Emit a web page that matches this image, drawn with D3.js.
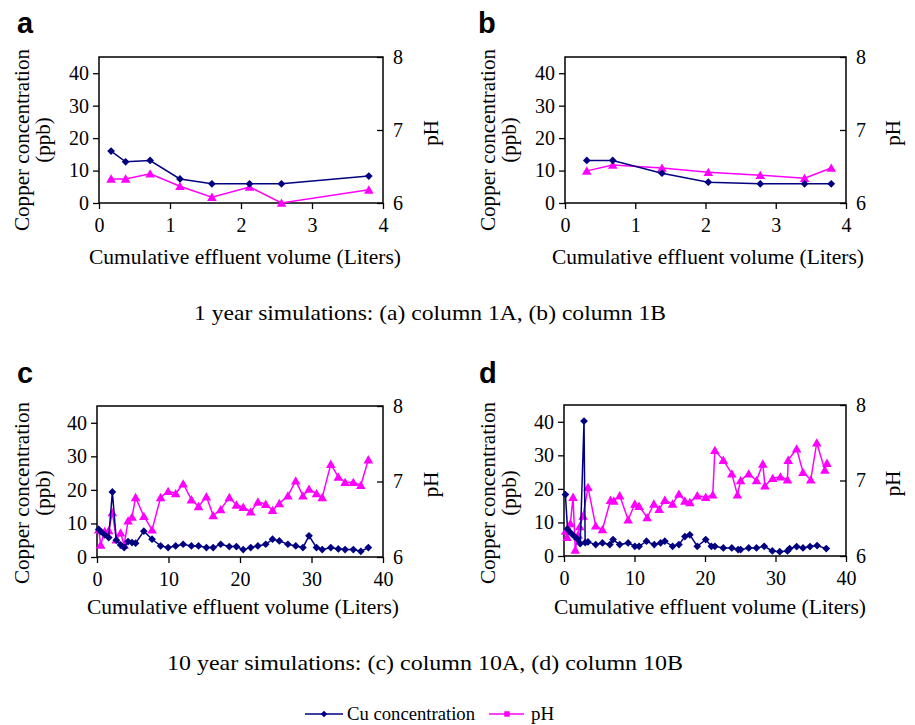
<!DOCTYPE html>
<html>
<head>
<meta charset="utf-8">
<script src="https://cdn.jsdelivr.net/npm/d3@7"></script>
<style>
  html, body { margin: 0; padding: 0; background: #fff; }
  svg { display: block; }
</style>
</head>
<body>
<svg id="chart" width="915" height="725"></svg>
<script>
// ---------- DATA ----------
const cuTicks = [0, 10, 20, 30, 40];
const phTicks = [6, 7, 8];
const volTicksShort = [0, 1, 2, 3, 4];
const volTicksLong = [0, 10, 20, 30, 40];

// Panel a: column 1A (1 year)
const aVolume = [0.17, 0.375, 0.72, 1.14, 1.59, 2.12, 2.57, 3.80];
const aCu     = [16.0, 12.7, 13.1, 7.4, 5.9, 5.9, 5.9, 8.3];
const aPH     = [6.33, 6.33, 6.40, 6.23, 6.08, 6.22, 6.00, 6.18];

// Panel b: column 1B (1 year)
const bVolume = [0.31, 0.68, 1.38, 2.04, 2.78, 3.41, 3.79];
const bCu     = [13.1, 13.1, 9.2, 6.4, 5.9, 5.9, 5.9];
const bPH     = [6.44, 6.52, 6.48, 6.42, 6.38, 6.34, 6.48];

// Panel c: column 10A (10 years)
const cVolume = [0.24, 0.52, 1.08, 1.64, 2.15, 2.7, 3.3, 3.8, 4.35, 4.9, 5.4, 6.55, 7.7, 8.9, 9.95, 11.0, 12.05, 13.2, 14.2, 15.3, 16.25, 17.3, 18.5, 19.5, 20.45, 21.5, 22.5, 23.6, 24.55, 25.5, 26.7, 27.8, 28.8, 29.65, 30.7, 31.5, 32.7, 33.75, 34.7, 35.85, 36.9, 37.95];
const cCu     = [8.2, 7.6, 6.6, 5.8, 19.4, 5.0, 3.6, 2.8, 4.6, 4.3, 4.1, 7.7, 5.3, 3.3, 2.8, 3.3, 3.8, 3.3, 3.3, 2.8, 2.8, 3.8, 3.1, 3.1, 2.2, 2.8, 3.3, 3.8, 5.3, 4.8, 3.8, 3.3, 2.8, 6.3, 2.8, 2.2, 2.8, 2.4, 2.2, 2.2, 1.7, 2.8];
const cPH     = [6.36, 6.16, 6.34, 6.35, 6.59, 6.23, 6.32, 6.16, 6.48, 6.53, 6.79, 6.54, 6.36, 6.79, 6.87, 6.84, 6.97, 6.76, 6.67, 6.80, 6.55, 6.63, 6.79, 6.69, 6.66, 6.60, 6.73, 6.70, 6.62, 6.71, 6.81, 7.01, 6.81, 6.90, 6.84, 6.79, 7.23, 7.06, 6.99, 6.99, 6.95, 7.29];

// Panel d: column 10B (10 years)
const dCuVolume = [0.2, 0.5, 0.9, 1.4, 1.9, 2.3, 2.84, 3.0, 3.4, 4.5, 5.45, 6.5, 6.96, 7.9, 9.1, 10.05, 10.65, 11.7, 12.8, 13.7, 14.3, 15.4, 16.3, 17.15, 17.85, 18.9, 20.1, 20.9, 21.4, 22.6, 23.8, 24.7, 25.05, 26.2, 27.3, 28.4, 29.55, 30.6, 31.7, 32.0, 33.0, 33.9, 34.9, 35.9, 37.2];
const dCu       = [18.3, 8.0, 7.0, 6.0, 5.0, 3.7, 40.2, 4.0, 4.2, 3.4, 3.9, 3.4, 4.9, 3.4, 3.9, 2.9, 2.9, 4.4, 3.4, 3.9, 4.4, 2.9, 3.4, 5.8, 6.3, 2.9, 4.9, 2.9, 2.9, 2.4, 2.4, 1.9, 1.9, 2.4, 2.4, 2.9, 1.5, 1.3, 1.5, 2.2, 2.8, 2.4, 2.8, 3.1, 2.2];
const dPHVolume = [0.24, 0.43, 0.9, 1.28, 1.6, 2.0, 2.23, 2.7, 3.4, 4.5, 5.45, 6.6, 7.06, 7.9, 9.1, 10.05, 10.65, 11.8, 12.75, 13.5, 14.3, 15.4, 16.3, 17.15, 17.85, 18.9, 20.1, 21.1, 21.4, 22.6, 23.8, 24.6, 25.05, 26.2, 27.3, 28.2, 28.5, 29.6, 30.7, 31.7, 31.8, 33.0, 33.9, 35.0, 35.85, 37.0, 37.3];
const dPH       = [6.33, 6.25, 6.43, 6.78, 6.08, 6.28, 6.39, 6.53, 6.91, 6.40, 6.35, 6.74, 6.73, 6.80, 6.48, 6.69, 6.66, 6.51, 6.69, 6.62, 6.74, 6.69, 6.82, 6.73, 6.71, 6.80, 6.78, 6.81, 7.40, 7.27, 7.09, 6.81, 7.00, 7.09, 7.00, 7.22, 6.93, 7.03, 7.05, 7.01, 7.27, 7.42, 7.11, 7.01, 7.50, 7.14, 7.23];

const panelLetters = ["a", "b", "c", "d"];
const xTitle = "Cumulative effluent volume (Liters)";
const yTitle1 = "Copper concentration";
const yTitle2 = "(ppb)";
const y2Title = "pH";
const captions = ["1 year simulations: (a) column 1A, (b) column 1B",
                  "10 year simulations: (c) column 10A, (d) column 10B"];
const legendLabels = ["Cu concentration", "pH"];

// ---------- STYLE ----------
const CU_COLOR = "#000080";
const PH_COLOR = "#FF00FF";
const SERIF = "Liberation Serif";
const SANS = "Liberation Sans";

const svg = d3.select("#chart");

const panels = [
  { letter: panelLetters[0], left: 99, right: 383, top: 57, bottom: 203, xMax: 4, xTicks: volTicksShort,
    cuX: aVolume, cu: aCu, phX: aVolume, ph: aPH, lx: 17, ly: 33, yTitleY: 140, xTitleX: 245, xTitleY: 264, ytX: 29, phLabelX: 438 },
  { letter: panelLetters[1], left: 565, right: 846, top: 57, bottom: 203, xMax: 4, xTicks: volTicksShort,
    cuX: bVolume, cu: bCu, phX: bVolume, ph: bPH, lx: 478, ly: 33, yTitleY: 140, xTitleX: 708, xTitleY: 264, ytX: 495, phLabelX: 900 },
  { letter: panelLetters[2], left: 97, right: 383, top: 406, bottom: 557, xMax: 40, xTicks: volTicksLong,
    cuX: cVolume, cu: cCu, phX: cVolume, ph: cPH, lx: 17, ly: 383, yTitleY: 493, xTitleX: 243, xTitleY: 614, ytX: 29, phLabelX: 438 },
  { letter: panelLetters[3], left: 564, right: 846, top: 405, bottom: 556, xMax: 40, xTicks: volTicksLong,
    cuX: dCuVolume, cu: dCu, phX: dPHVolume, ph: dPH, lx: 479, ly: 383, yTitleY: 493, xTitleX: 710, xTitleY: 614, ytX: 495, phLabelX: 900 }
];

const diamond = d3.symbol().type(d3.symbolSquare).size(30);
const triangle = d3.symbol().type(d3.symbolTriangle).size(40);

function serifText(sel, size) {
  return sel.style("font-family", SERIF).style("font-size", size + "px").attr("fill", "#000");
}

panels.forEach(p => {
  const x = d3.scaleLinear().domain([0, p.xMax]).range([p.left, p.right]);
  const yCu = d3.scaleLinear().domain([0, 45]).range([p.bottom, p.top]);
  const yPh = d3.scaleLinear().domain([6, 8]).range([p.bottom, p.top]);

  const g = svg.append("g");

  // axes
  const xAxis = g.append("g").attr("transform", `translate(0,${p.bottom})`)
    .call(d3.axisBottom(x).tickValues(p.xTicks).tickSize(6).tickPadding(9).tickFormat(d3.format("d")));
  const yAxis = g.append("g").attr("transform", `translate(${p.left},0)`)
    .call(d3.axisLeft(yCu).tickValues(cuTicks).tickSize(6).tickPadding(4).tickFormat(d3.format("d")));
  const y2Axis = g.append("g").attr("transform", `translate(${p.right},0)`)
    .call(d3.axisRight(yPh).tickValues(phTicks).tickSize(-6).tickPadding(10).tickFormat(d3.format("d")));
  [xAxis, yAxis, y2Axis].forEach(a => {
    a.attr("font-family", null).attr("font-size", null);
    a.select(".domain").remove();
    a.selectAll(".tick line").attr("stroke", "#000").attr("stroke-width", 1.3);
    serifText(a.selectAll(".tick text"), 20);
  });

  // box
  g.append("rect").attr("x", p.left).attr("y", p.top)
    .attr("width", p.right - p.left).attr("height", p.bottom - p.top)
    .attr("fill", "none").attr("stroke", "#000").attr("stroke-width", 1.5);

  // pH series
  const phData = p.phX.map((v, i) => [v, p.ph[i]]);
  g.append("path").datum(phData)
    .attr("fill", "none").attr("stroke", PH_COLOR).attr("stroke-width", 1.5)
    .attr("d", d3.line().x(d => x(d[0])).y(d => yPh(d[1])));
  g.selectAll(".ph").data(phData).enter().append("path")
    .attr("d", triangle)
    .attr("transform", d => `translate(${x(d[0])},${yPh(d[1]) + 1})`)
    .attr("fill", PH_COLOR);

  // Cu series
  const cuData = p.cuX.map((v, i) => [v, p.cu[i]]);
  g.append("path").datum(cuData)
    .attr("fill", "none").attr("stroke", CU_COLOR).attr("stroke-width", 1.5)
    .attr("d", d3.line().x(d => x(d[0])).y(d => yCu(d[1])));
  g.selectAll(".cu").data(cuData).enter().append("path")
    .attr("d", diamond)
    .attr("transform", d => `translate(${x(d[0])},${yCu(d[1])}) rotate(45)`)
    .attr("fill", CU_COLOR);

  // titles
  g.append("text").attr("x", p.lx).attr("y", p.ly)
    .style("font-family", SANS).style("font-weight", "bold").style("font-size", "29px")
    .text(p.letter);
  serifText(g.append("text").attr("transform", `translate(${p.ytX},${p.yTitleY}) rotate(-90)`)
    .attr("text-anchor", "middle"), 21)
    .attr("textLength", 182).attr("lengthAdjust", "spacingAndGlyphs")
    .text(yTitle1);
  serifText(g.append("text").attr("transform", `translate(${p.ytX + 21},${p.yTitleY}) rotate(-90)`)
    .attr("text-anchor", "middle"), 21)
    .text(yTitle2);
  serifText(g.append("text").attr("transform", `translate(${p.phLabelX},${(p.top + p.bottom) / 2 + 3}) rotate(-90)`)
    .attr("text-anchor", "middle"), 21)
    .text(y2Title);
  serifText(g.append("text").attr("x", p.xTitleX).attr("y", p.xTitleY)
    .attr("text-anchor", "middle"), 21)
    .attr("textLength", 312).attr("lengthAdjust", "spacingAndGlyphs")
    .text(xTitle);
});

// captions
serifText(svg.append("text").attr("x", 430).attr("y", 320).attr("text-anchor", "middle"), 22)
  .attr("textLength", 472).attr("lengthAdjust", "spacingAndGlyphs")
  .text(captions[0]);
serifText(svg.append("text").attr("x", 425).attr("y", 670).attr("text-anchor", "middle"), 22)
  .attr("textLength", 516).attr("lengthAdjust", "spacingAndGlyphs")
  .text(captions[1]);

// legend
const lg = svg.append("g");
const ly = 714;
lg.append("line").attr("x1", 305).attr("x2", 343).attr("y1", ly).attr("y2", ly)
  .attr("stroke", CU_COLOR).attr("stroke-width", 1.5);
lg.append("path").attr("d", d3.symbol().type(d3.symbolSquare).size(22))
  .attr("transform", `translate(324,${ly}) rotate(45)`).attr("fill", CU_COLOR);
serifText(lg.append("text").attr("x", 347).attr("y", ly + 6), 19)
  .attr("textLength", 128).attr("lengthAdjust", "spacingAndGlyphs")
  .text(legendLabels[0]);
lg.append("line").attr("x1", 489).attr("x2", 524).attr("y1", ly).attr("y2", ly)
  .attr("stroke", PH_COLOR).attr("stroke-width", 1.5);
lg.append("path").attr("d", d3.symbol().type(d3.symbolSquare).size(30))
  .attr("transform", `translate(507,${ly})`).attr("fill", PH_COLOR);
serifText(lg.append("text").attr("x", 531).attr("y", ly + 6), 19)
  .text(legendLabels[1]);
</script>
</body>
</html>
